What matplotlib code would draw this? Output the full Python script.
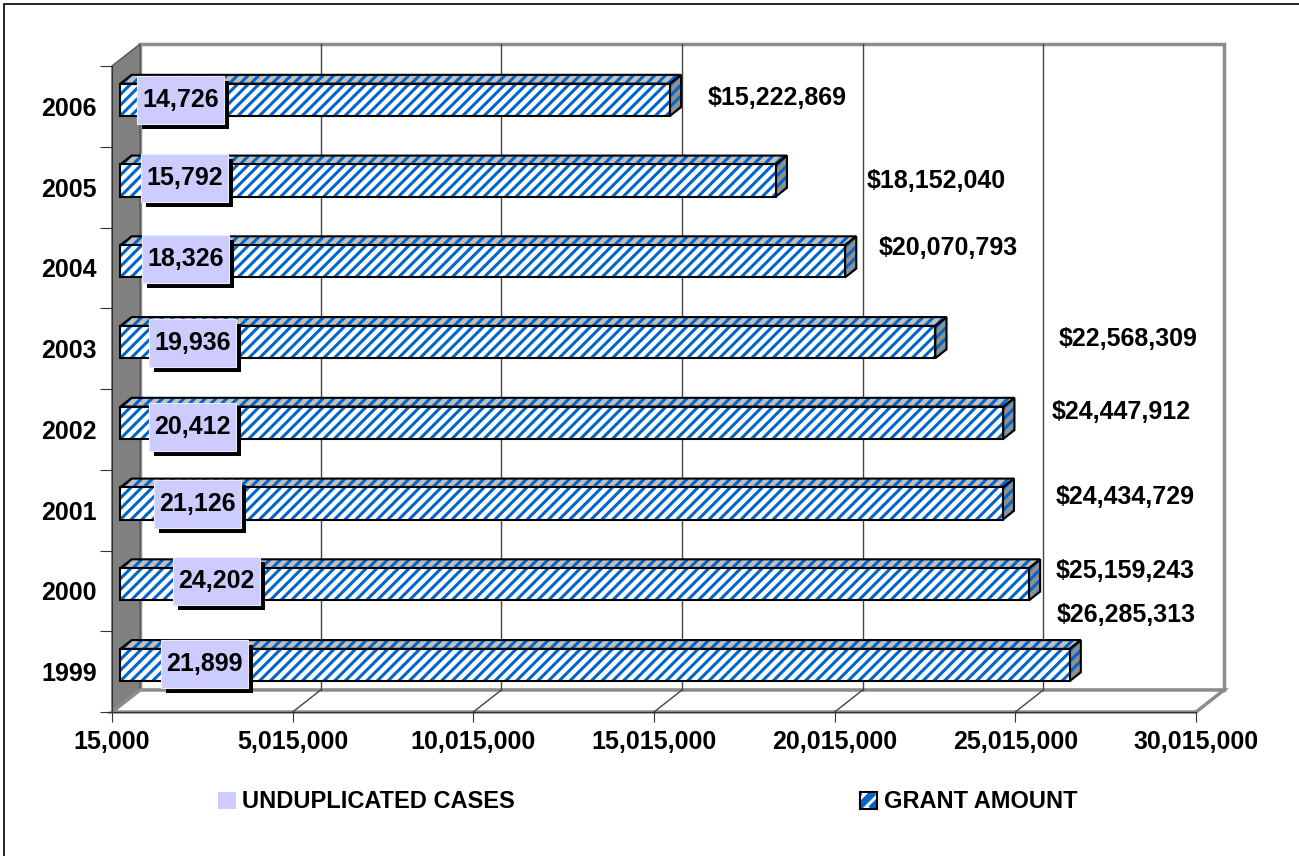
import matplotlib
matplotlib.use('Agg')
import matplotlib.pyplot as plt
import matplotlib.patches as mpatches
import matplotlib.transforms as mtransforms
import matplotlib.patheffects as pe
from matplotlib.path import Path
from matplotlib.collections import LineCollection

# data (bottom to top)
years = ['1999', '2000', '2001', '2002', '2003', '2004', '2005', '2006']
grant_amount = [26285313, 25159243, 24434729, 24447912, 22568309, 20070793, 18152040, 15222869]
unduplicated_cases = [21899, 24202, 21126, 20412, 19936, 18326, 15792, 14726]
x_ticks = [15000, 5015000, 10015000, 15015000, 20015000, 25015000, 30015000]

# label placement (pixels, relative to the bar), hand-tuned like the original
cases_dx = [84, 96, 77, 72, 72, 65, 64, 60]
cases_dy = [1, 3, 0, -4, -1, 2, 3, 0]
grant_dx = [-13, 27, 53, 48, 123, 34, 91, 38]
grant_dy = [50, 13, 7, 11, 3, 13, 0, 2]

BLUE = '#0066CC'
LAV = '#CCCCFF'
W, H = 1299, 856
DX, DY = 28, 22          # depth offset of the back wall, px
D0, D1 = 0.3, 0.7        # bar depth span
BAR_H = 0.4

plt.rcParams['font.family'] = ['Liberation Sans', 'DejaVu Sans']
plt.rcParams['font.weight'] = 'bold'

fig = plt.figure(figsize=(W / 100, H / 100), dpi=100)
ax = fig.add_axes([112 / W, (H - 712) / H, (1196 - 112) / W, (712 - 66) / H])
ax.patch.set_alpha(0)

ypos = list(range(len(years)))
X0, X1 = x_ticks[0], x_ticks[-1]

# cases series: sits below the axis minimum, so it is clipped away like in the original
ax.barh(ypos, unduplicated_cases, height=BAR_H, color=LAV, zorder=2)

front = ax.transData + mtransforms.ScaledTranslation(DX * D0 / 100, DY * D0 / 100, fig.dpi_scale_trans)
bars = ax.barh(ypos, [g - X0 for g in grant_amount], left=X0, height=BAR_H,
               color='white', edgecolor='none', zorder=4)
for b in bars:
    b.set_transform(front)
    b.set_clip_on(False)

ax.set_xlim(X0, X1)
ax.set_ylim(-0.5, len(years) - 0.5)

ident = mtransforms.IdentityTransform()


def P(x, y, d):
    px, py = ax.transData.transform((x, y))
    return (px + DX * d, py + DY * d)


def stripes(patch, z, sp=10.7, lw=2.2):
    ext = patch.get_window_extent()
    h = ext.y1 - ext.y0
    segs = []
    x = ext.x0 - h - sp
    while x < ext.x1 + sp:
        segs.append([(x, ext.y0), (x + h, ext.y1)])
        x += sp
    lc = LineCollection(segs, colors=BLUE, linewidths=lw, transform=ident, zorder=z)
    ax.add_collection(lc, autolim=False)
    lc.set_clip_box(None)
    lc.set_clip_path(patch)


def face(pts, fc, z, edge='black', lw=1.5, hatch=True):
    poly = mpatches.Polygon(pts, closed=True, facecolor=fc, edgecolor='none',
                            transform=ident, zorder=z, clip_on=False)
    ax.add_patch(poly)
    if hatch:
        stripes(poly, z + 0.05)
    ax.add_patch(mpatches.Polygon(pts, closed=True, fill=False, edgecolor=edge, lw=lw,
                                  transform=ident, zorder=z + 0.1, clip_on=False))


yb, yt = -0.5, len(years) - 0.5
# walls and floor
face([P(X0, yb, 1), P(X1, yb, 1), P(X1, yt, 1), P(X0, yt, 1)], 'white', 0.5,
     edge='#8c8c8c', lw=2.5, hatch=False)
face([P(X0, yb, 0), P(X0, yt, 0), P(X0, yt, 1), P(X0, yb, 1)], '#808080', 0.6,
     edge='#555555', lw=1, hatch=False)
face([P(X0, yb, 0), P(X1, yb, 0), P(X1, yb, 1), P(X0, yb, 1)], 'white', 0.6,
     edge='#8c8c8c', lw=2.5, hatch=False)
for v in x_ticks[1:-1]:
    ax.add_line(plt.Line2D(*zip(P(v, yb, 1), P(v, yt, 1)), color='#444444', lw=1,
                           transform=ident, zorder=0.8, clip_on=False))
    ax.add_line(plt.Line2D(*zip(P(v, yb, 0), P(v, yb, 1)), color='#444444', lw=1,
                           transform=ident, zorder=0.8, clip_on=False))

# 3D bar faces
for i, g in enumerate(grant_amount):
    y = ypos[i]
    face([P(X0, y + BAR_H / 2, D0), P(g, y + BAR_H / 2, D0),
          P(g, y + BAR_H / 2, D1), P(X0, y + BAR_H / 2, D1)], '#C0C0C0', 3)
    face([P(g, y - BAR_H / 2, D0), P(g, y + BAR_H / 2, D0),
          P(g, y + BAR_H / 2, D1), P(g, y - BAR_H / 2, D1)], '#8f8f8f', 3)
    b = bars[i]
    stripes(b, 4.05)
    ax.add_patch(mpatches.Rectangle(b.get_xy(), b.get_width(), b.get_height(), transform=front,
                                    fill=False, edgecolor='black', lw=1.5, zorder=4.1, clip_on=False))


def label_box(x0, y0, width, height, mutation_size):
    # fixed-height box like the spreadsheet data labels
    cx, cy = x0 + width / 2, y0 + height / 2
    hw, hh = width / 2 + 5, 24
    return Path([(cx - hw, cy - hh), (cx + hw, cy - hh), (cx + hw, cy + hh),
                 (cx - hw, cy + hh), (cx - hw, cy - hh)], closed=True)


# labels
for i in range(len(years)):
    t = ax.annotate(f'{unduplicated_cases[i]:,}', xy=(X0, ypos[i]), xycoords=front,
                    xytext=(cases_dx[i], cases_dy[i]), textcoords='offset pixels',
                    ha='center', va='center', fontsize=18, fontweight='bold', zorder=6,
                    bbox=dict(boxstyle=label_box, facecolor=LAV, edgecolor='#e8e8ff', lw=0.8))
    t.get_bbox_patch().set_path_effects([
        pe.SimplePatchShadow(offset=(3.6, -3.6), shadow_rgbFace='black', alpha=1), pe.Normal()])
    ax.annotate(f'${grant_amount[i]:,}', xy=(grant_amount[i], ypos[i]), xycoords=front,
                xytext=(grant_dx[i], grant_dy[i]), textcoords='offset pixels',
                ha='left', va='center', fontsize=18, fontweight='bold', zorder=6)

# axes
for s in ['top', 'right']:
    ax.spines[s].set_visible(False)
for s in ['left', 'bottom']:
    ax.spines[s].set_color('#333333')
    ax.spines[s].set_zorder(1)
ax.set_xticks(x_ticks)
ax.set_xticklabels([f'{v:,}' for v in x_ticks])
ax.tick_params(axis='x', length=7.5, color='#333333', labelsize=18, pad=5.5)
ax.set_yticks([v - 0.5 for v in range(len(years) + 1)])
ax.set_yticklabels([])
ax.set_yticks(ypos, minor=True)
ax.set_yticklabels(years, minor=True)
ax.tick_params(axis='y', which='major', length=8.6, color='#333333')
ax.tick_params(axis='y', which='minor', length=0, labelsize=18, pad=10.8)
for lbl in ax.get_xticklabels() + ax.get_yticklabels(minor=True):
    lbl.set_fontweight('bold')

# legend
fig.add_artist(mpatches.Rectangle((218, H - 809), 18, 17, facecolor=LAV, edgecolor='none',
                                  transform=ident))
fig.text(242 / W, (H - 801) / H, 'UNDUPLICATED CASES', fontsize=17, fontweight='bold',
         ha='left', va='center')
icon = mpatches.Polygon([(860, H - 809), (877, H - 809), (877, H - 792), (860, H - 792)],
                        closed=True, facecolor='white', edgecolor='none',
                        transform=ident, clip_on=False)
ax.add_patch(icon)
stripes(icon, 3, sp=14, lw=5)
ax.add_patch(mpatches.Rectangle((860, H - 809), 17, 17, fill=False, edgecolor='black', lw=1.5,
                                transform=ident, clip_on=False, zorder=3.2))
fig.text(884 / W, (H - 801) / H, 'GRANT AMOUNT', fontsize=17, fontweight='bold',
         ha='left', va='center')

# chart area border
fig.add_artist(mpatches.Rectangle((4, -20), W + 20, H - 4 + 20, fill=False, edgecolor='black',
                                  lw=1.2, transform=ident))

fig.savefig('out.png', dpi=100)
